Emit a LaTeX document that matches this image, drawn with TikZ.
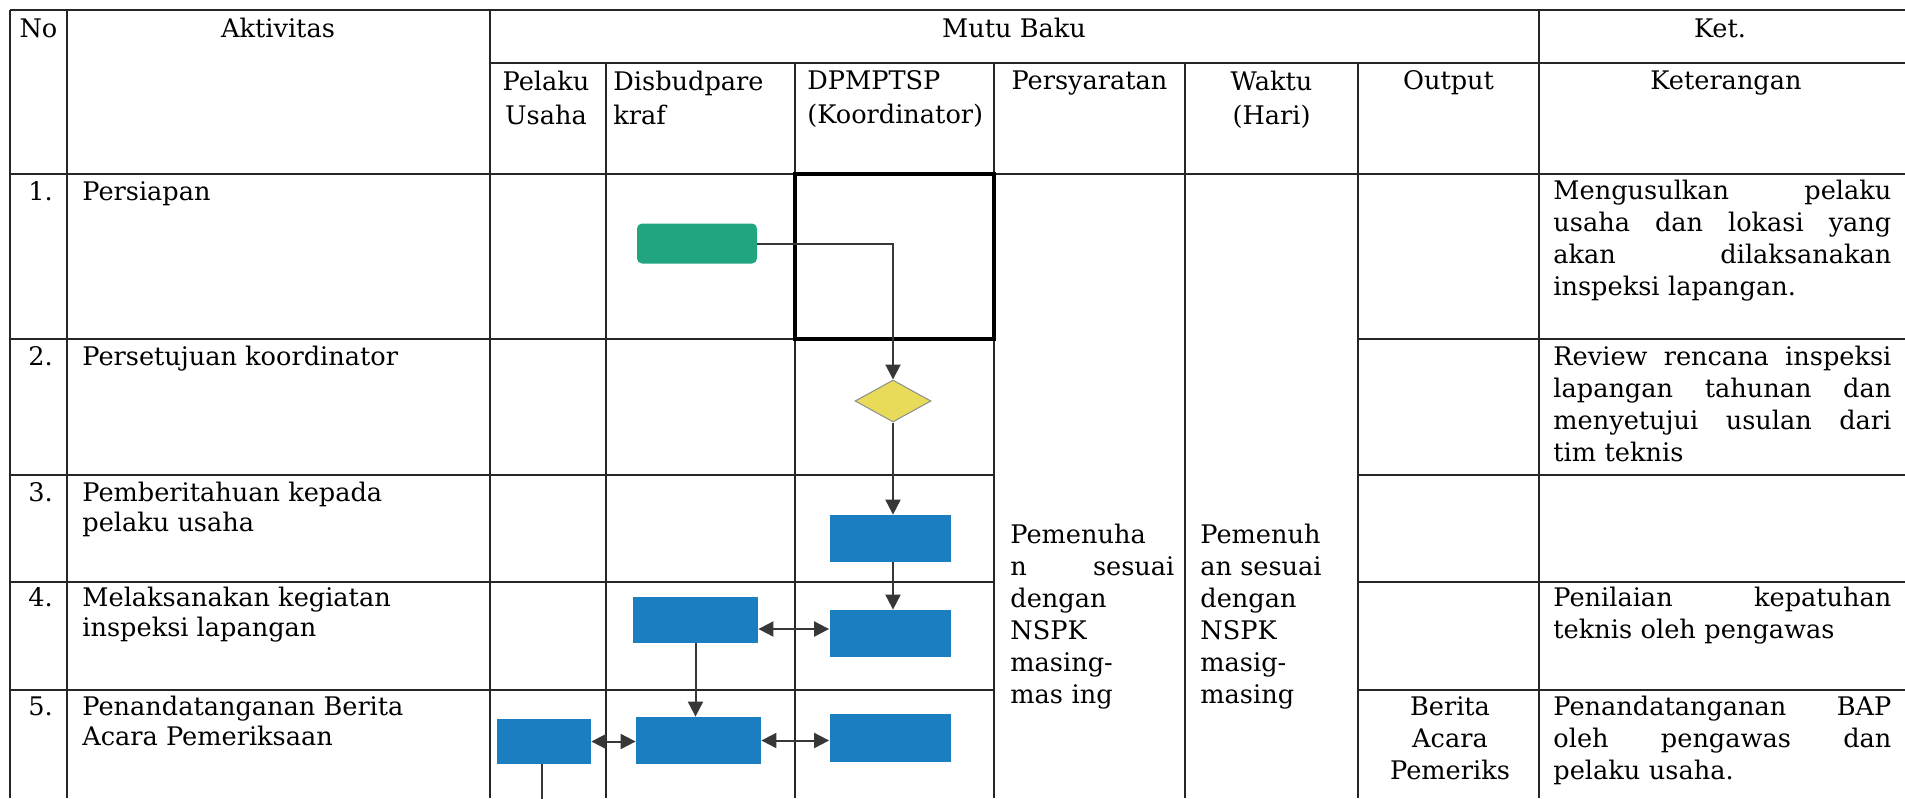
\documentclass[tikz,border=0pt]{standalone}
\usepackage{fontspec}
\setmainfont{DejaVu Serif}
\usetikzlibrary{positioning}
\usetikzlibrary{shapes.geometric}
\usetikzlibrary{arrows.meta}
\definecolor{startgreen}{RGB}{33,165,128}
\definecolor{procblue}{RGB}{27,126,192}
\definecolor{decyellow}{RGB}{232,219,90}
\definecolor{flowgray}{RGB}{55,55,55}
\newcommand{\jline}[1]{\makebox[\hsize][s]{\spaceskip=0.3em plus 1fil\relax #1}}
\tikzstyle{tabline} = [line width=1pt, black!85]
\tikzstyle{startbox} = [rectangle, rounded corners=2.5pt, minimum width=60pt, minimum height=20pt, fill=startgreen, inner sep=0pt]
\tikzstyle{procbox} = [rectangle, minimum width=60.5pt, minimum height=23.5pt, fill=procblue, inner sep=0pt]
\tikzstyle{decision} = [diamond, minimum width=38pt, minimum height=21pt, fill=decyellow, draw=black!45, line width=0.5pt, inner sep=0pt]
\tikzstyle{flow} = [->, line width=1pt, draw=flowgray]
\tikzstyle{bothflow} = [<->, line width=1pt, draw=flowgray]
\tikzstyle{bodytext} = [inner sep=0pt, align=left, font=\fontsize{12.8}{15}\selectfont]
\tikzstyle{widetext} = [inner sep=0pt, align=left, font=\fontsize{12.8}{16}\selectfont]
\tikzstyle{headtext} = [inner sep=0pt, font=\fontsize{12.8}{17}\selectfont]

\begin{document}
\begin{tikzpicture}[x=0.5pt, y=-0.5pt, >={Triangle[width=7.5pt,length=7.5pt]}]
	\useasboundingbox (0,0) rectangle (1905,798);
	\draw[tabline] (10,10) -- (1905,10);
	\draw[tabline] (490,63) -- (1905,63);
	\draw[tabline] (10,174) -- (1905,174);
	\foreach \y in {339,475,582,690} {
		\draw[tabline] (10,\y) -- (994,\y);
		\draw[tabline] (1358,\y) -- (1905,\y);
	}
	\foreach \x in {10,67,490,1539} \draw[tabline] (\x,10) -- (\x,798);
	\foreach \x in {606,795,994,1185,1358} \draw[tabline] (\x,63) -- (\x,798);
	\draw[line width=1.6pt] (795,174) rectangle (994,339);

	\node[headtext, anchor=base] (hno) at (38.5,37) {No};
	\node[headtext, anchor=base] (hakt) at (278,37) {Aktivitas};
	\node[headtext, anchor=base] (hmutu) at (1014,37) {Mutu Baku};
	\node[headtext, anchor=base] (hket) at (1720,37) {Ket.};
	\node[headtext, anchor=north, align=center] (hpel) at (546,70.5) {Pelaku\\Usaha};
	\node[headtext, anchor=north west, align=left] (hdis) at (613,70.5) {Disbudpare\\kraf};
	\node[headtext, anchor=north west, align=left] (hdpm) at (807,70.5) {DPMPTSP\\(Koordinator)};
	\node[headtext, anchor=north] (hsyr) at (1089.5,70.5) {Persyaratan};
	\node[headtext, anchor=north, align=center] (hwkt) at (1271.5,70.5) {Waktu\\(Hari)};
	\node[headtext, anchor=north] (hout) at (1448.5,70.5) {Output};
	\node[headtext, anchor=north] (hktr) at (1726,70.5) {Keterangan};

	\node[bodytext, anchor=north west] (n1) at (28,181) {1.};
	\node[bodytext, anchor=north west] (a1) at (82,181) {Persiapan};
	\node[bodytext, anchor=north west] (n2) at (28,346) {2.};
	\node[bodytext, anchor=north west] (a2) at (82,346) {Persetujuan koordinator};
	\node[bodytext, anchor=north west] (n3) at (28,482) {3.};
	\node[bodytext, anchor=north west] (a3) at (82,482) {Pemberitahuan kepada\\pelaku usaha};
	\node[bodytext, anchor=north west] (n4) at (28,587) {4.};
	\node[bodytext, anchor=north west] (a4) at (82,587) {Melaksanakan kegiatan\\inspeksi lapangan};
	\node[bodytext, anchor=north west] (n5) at (28,696) {5.};
	\node[bodytext, anchor=north west] (a5) at (82,696) {Penandatanganan Berita\\Acara Pemeriksaan};

	\node[widetext, anchor=north west, text width=82pt] (req) at (1010,524) {Pemenuha\\\jline{n sesuai}\\dengan\\NSPK\\masing-\\mas ing};
	\node[widetext, anchor=north west] (days) at (1200,524) {Pemenuh\\an sesuai\\dengan\\NSPK\\masig-\\masing};
	\node[widetext, anchor=north, align=center] (out5) at (1450,696) {Berita\\Acara\\Pemeriks};

	\node[widetext, anchor=north west, text width=169pt] (ket1) at (1553,180) {\jline{Mengusulkan pelaku}\\\jline{usaha dan lokasi yang}\\\jline{akan dilaksanakan}\\inspeksi lapangan.};
	\node[widetext, anchor=north west, text width=169pt] (ket2) at (1553,346) {\jline{Review rencana inspeksi}\\\jline{lapangan tahunan dan}\\\jline{menyetujui usulan dari}\\tim teknis};
	\node[widetext, anchor=north west, text width=169pt] (ket4) at (1553,587) {\jline{Penilaian kepatuhan}\\teknis oleh pengawas};
	\node[widetext, anchor=north west, text width=169pt] (ket5) at (1553,696) {\jline{Penandatanganan BAP}\\\jline{oleh pengawas dan}\\pelaku usaha.};

	\node[startbox] (start) at (697,243.5) {};
	\node[decision] (approve) at (893,401) {};
	\node[procbox] (notify) at (890,538.5) {};
	\node[procbox] (inspect) at (890,633.5) {};
	\node[procbox, minimum width=62.5pt, minimum height=23pt] (team) at (695.5,620) {};
	\node[procbox, minimum width=47pt, minimum height=22.5pt] (actor) at (544,741.5) {};
	\node[procbox, minimum width=62.5pt, minimum height=23.5pt] (teamsign) at (698.5,740.5) {};
	\node[procbox, minimum height=24pt] (coordsign) at (890,738) {};
	\coordinate (actorend) at (542,800);

	\draw[flow] (start.east) -| (approve.north);
	\draw[flow] (approve.south) -- (approve.south |- notify.north);
	\draw[flow] (notify.south -| approve.south) -- (approve.south |- inspect.north);
	\draw[bothflow] ([yshift=-4.5pt]team.east) -- ([yshift=-4.5pt]team.east -| inspect.west);
	\draw[flow] (team.south) -- (team.south |- teamsign.north);
	\draw[bothflow] (actor.east) -- (actor.east -| teamsign.west);
	\draw[bothflow] (teamsign.east) -- (teamsign.east -| coordsign.west);
	\draw[line width=1pt, draw=flowgray] (actor.south -| actorend) -- (actorend);
\end{tikzpicture}
\end{document}
